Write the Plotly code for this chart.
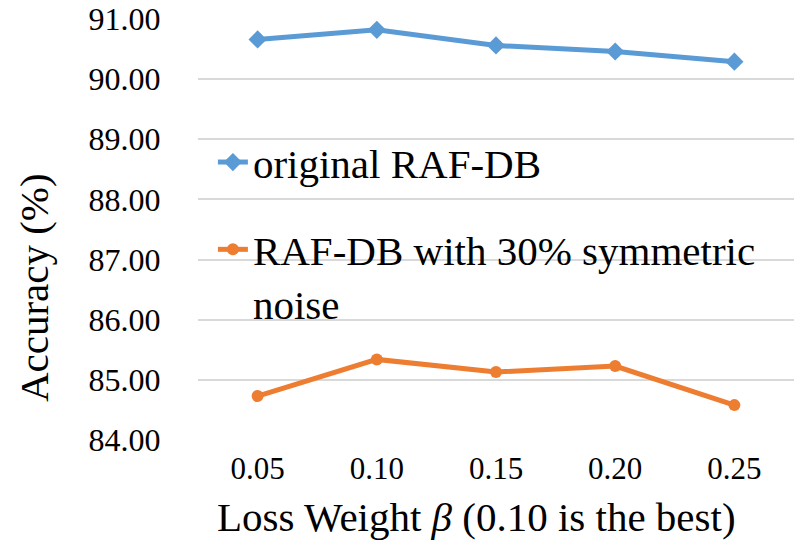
import plotly.graph_objects as go

categories = ["0.05", "0.10", "0.15", "0.20", "0.25"]
original = [90.66, 90.82, 90.56, 90.46, 90.29]
noisy = [84.73, 85.34, 85.13, 85.23, 84.58]
y_ticks = [84, 85, 86, 87, 88, 89, 90, 91]

FONT = "Liberation Serif"

fig = go.Figure()
fig.add_trace(go.Scatter(
    x=categories, y=original, name="original RAF-DB", mode="lines+markers",
    line=dict(color="#5B9BD5", width=5),
    marker=dict(symbol="diamond", size=14, color="#5B9BD5"),
    legendgroup="a",
))
fig.add_trace(go.Scatter(
    x=categories, y=noisy, name="RAF-DB with 30% symmetric<br>noise", mode="lines+markers",
    line=dict(color="#ED7D31", width=5),
    marker=dict(symbol="circle", size=12, color="#ED7D31"),
    legendgroup="b",
))

fig.update_layout(
    template="none",
    width=801, height=542,
    margin=dict(l=198, r=7, t=19, b=102),
    paper_bgcolor="white", plot_bgcolor="white",
    font=dict(family=FONT, color="black", size=32),
    showlegend=True,
    legend=dict(
        x=0.025, y=0.739, xanchor="left", yanchor="top",
        font=dict(size=41, family=FONT, color="black"),
        bgcolor="rgba(0,0,0,0)", valign="top",
        traceorder="grouped", tracegroupgap=31,
    ),
    xaxis=dict(
        type="category", range=[-0.5, 4.5],
        showgrid=False, showline=False, zeroline=False,
        ticks="", ticklabelstandoff=7,
        tickfont=dict(size=31, family=FONT, color="black"),
    ),
    yaxis=dict(
        range=[84, 91], tickvals=y_ticks, tickformat=".2f",
        showgrid=True, gridcolor="#D9D9D9", gridwidth=1.5,
        showline=False, zeroline=False,
        ticks="outside", ticklen=30, tickcolor="rgba(0,0,0,0)",
        tickfont=dict(size=32, family=FONT, color="black"),
    ),
    annotations=[
        dict(text="Loss Weight <i>β</i> (0.10 is the best)", xref="paper", yref="paper",
             x=0.467, y=-0.183, xanchor="center", yanchor="middle", showarrow=False,
             font=dict(size=41, family=FONT, color="black")),
        dict(text="Accuracy (%)", xref="paper", yref="paper",
             x=-0.275, y=0.361, xanchor="center", yanchor="middle", showarrow=False,
             textangle=-90, font=dict(size=41, family=FONT, color="black")),
    ],
)

fig.write_html("out.html")
